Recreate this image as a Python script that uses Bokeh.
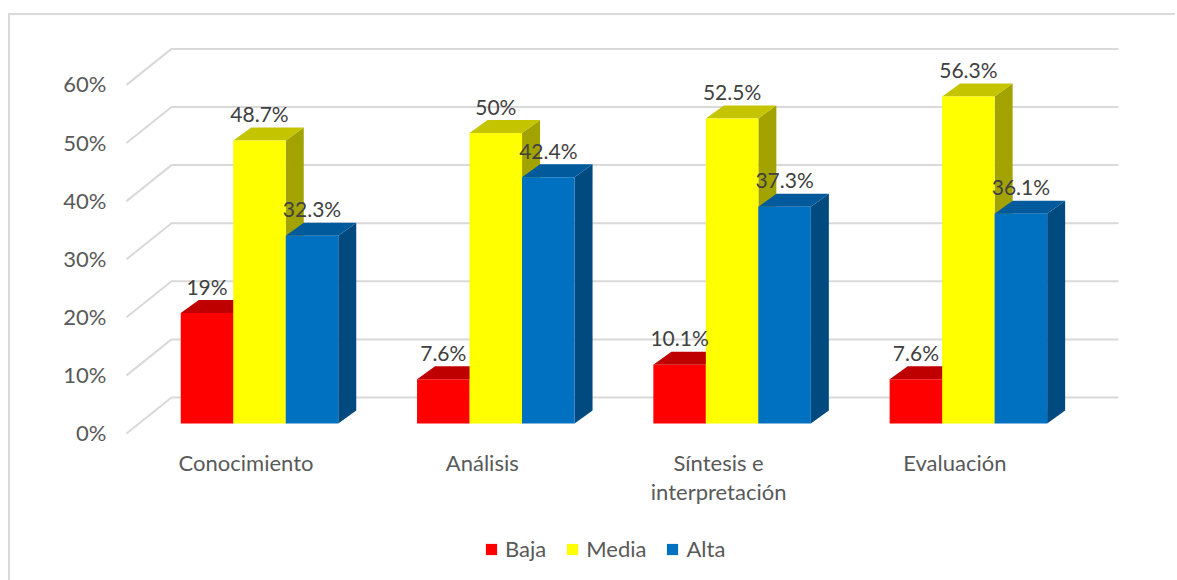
from bokeh.plotting import figure
from bokeh.models import (Range1d, LinearAxis, FixedTicker, Legend, LegendItem, PrintfTickFormatter)
from bokeh.embed import file_html
from bokeh.resources import INLINE
from bokeh.core.properties import value

categories = ["Conocimiento", "Análisis", "Síntesis e\ninterpretación", "Evaluación"]
series_names = ["Baja", "Media", "Alta"]
baja = [19, 7.6, 10.1, 7.6]
media = [48.7, 50, 52.5, 56.3]
alta = [32.3, 42.4, 37.3, 36.1]
labels_baja = ["19%", "7.6%", "10.1%", "7.6%"]
labels_media = ["48.7%", "50%", "52.5%", "56.3%"]
labels_alta = ["32.3%", "42.4%", "37.3%", "36.1%"]
y_ticks = [0, 10, 20, 30, 40, 50, 60]

front = ["#ff0000", "#ffff00", "#0070c0"]
top_c = ["#bf0000", "#c4c400", "#005a9c"]
side_c = ["#a00000", "#a3a300", "#004a80"]
GRID = "#d9d9d9"
TEXT = "#595959"
LABEL = "#404040"
FONT = "Lato"

OX, OY = 11, 15                     # where the canvas starts on the page
W, H = 1165, 565
FL, FR, FT, FB = 112, 1135, 30, 575  # frame edges, in page pixels
PX_Y = 5.81                         # pixels per percent
PX_X = 236.3                        # pixels per category
X0, Y0 = 260, 423                   # centre of first group, bar floor
AX_X0, AX_Y0 = 246.5, 432           # first category label, front 0 %
CAT_LABEL_Y = 448                   # top of the category labels
BW = 52.5 / PX_X
STEP = 52.5 / PX_X
DX, DY = 18 / PX_X, 13 / PX_Y       # bar depth
BACK_DX, BACK_DY = -88 / PX_X, 26 / PX_Y
FRONT_DX, FRONT_DY = -133 / PX_X, -10 / PX_Y
GRID_END = (1119 - X0) / PX_X

p = figure(width=W, height=H, output_backend="svg", toolbar_location=None,
           x_range=Range1d((FL - X0) / PX_X, (FR - X0) / PX_X),
           y_range=Range1d((Y0 - FB) / PX_Y, (Y0 - FT) / PX_Y),
           x_axis_location=None, y_axis_location=None,
           min_border_left=FL - OX, min_border_top=FT - OY,
           min_border_right=OX + W - FR, min_border_bottom=OY + H - FB,
           frame_width=FR - FL, frame_height=FB - FT)
p.outline_line_color = None
p.grid.visible = False
p.background_fill_color = "white"
p.styles = {"margin-left": "8px", "margin-top": "13px",
            "border-left": f"2px solid {GRID}", "border-top": f"2px solid {GRID}"}

# gridlines: front-left diagonal, then along the back wall
gx = [[FRONT_DX, BACK_DX, GRID_END] for _ in y_ticks]
gy = [[t + FRONT_DY, t + BACK_DY, t + BACK_DY] for t in y_ticks]
p.multi_line(gx, gy, line_color=GRID, line_width=2)

# bars
renderers = []
for s, vals in enumerate([baja, media, alta]):
    offs = [i + (s - 1) * STEP for i in range(len(vals))]
    ls = [o - BW / 2 for o in offs]
    rs = [o + BW / 2 for o in offs]
    p.patches([[r, r + DX, r + DX, r] for r in rs],
              [[0, DY, v + DY, v] for v in vals],
              fill_color=side_c[s], line_color=None)
    p.patches([[l, l + DX, r + DX, r] for l, r in zip(ls, rs)],
              [[v, v + DY, v + DY, v] for v in vals],
              fill_color=top_c[s], line_color=None)
    rend = p.vbar(x=offs, top=vals, bottom=0, width=BW,
                  fill_color=front[s], line_color=None)
    renderers.append(rend)

# data labels
for s, (vals, texts) in enumerate(zip([baja, media, alta], [labels_baja, labels_media, labels_alta])):
    offs = [i + (s - 1) * STEP for i in range(len(vals))]
    p.text(offs, vals, text=texts, text_font=value(FONT), text_font_size="21px",
           text_color=LABEL, text_align="center", text_baseline="middle", y_offset=-27)

# category labels, placed on the same x scale as the bars
cat_x = [i + (AX_X0 - X0) / PX_X for i in range(len(categories))]
cat_y = [(Y0 - CAT_LABEL_Y) / PX_Y] * len(categories)
p.text(cat_x, cat_y, text=categories, text_font=value(FONT), text_font_size="22px",
       text_color=TEXT, text_align="center", text_baseline="top", text_line_height=1.1)

# value axis
p.extra_y_ranges["axis"] = Range1d((AX_Y0 - FB) / PX_Y, (AX_Y0 - FT) / PX_Y)
yaxis = LinearAxis(y_range_name="axis", ticker=FixedTicker(ticks=y_ticks),
                   formatter=PrintfTickFormatter(format="%d%%"))
yaxis.axis_line_color = None
yaxis.major_tick_line_color = None
yaxis.major_tick_out = 0
yaxis.minor_tick_out = 0
yaxis.minor_tick_line_color = None
yaxis.major_label_standoff = 5
yaxis.major_label_text_font = FONT
yaxis.major_label_text_font_size = "22px"
yaxis.major_label_text_color = TEXT
p.add_layout(yaxis, "left")

legend = Legend(items=[LegendItem(label=n, renderers=[r]) for n, r in zip(series_names, renderers)],
                orientation="horizontal", location=(373, 13),
                glyph_width=14, glyph_height=14, spacing=19, label_standoff=7,
                padding=0, margin=0, background_fill_alpha=0, border_line_color=None,
                label_text_font=FONT, label_text_font_size="22px", label_text_color=TEXT)
p.add_layout(legend)

open("out.html", "w").write(file_html(p, INLINE))
